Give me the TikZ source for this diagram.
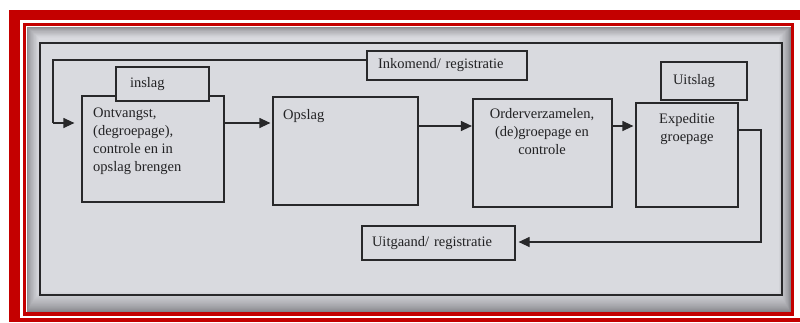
\documentclass[tikz,border=0pt]{standalone}
\usepackage{fontspec}
\setmainfont{Liberation Serif}
\usetikzlibrary{arrows.meta,calc}
\definecolor{framered}{RGB}{196,0,0}
\definecolor{paper}{RGB}{217,218,223}
\definecolor{paperdark}{RGB}{132,132,137}
\definecolor{ink}{RGB}{40,40,42}
\tikzset{
  box/.style={draw=ink, line width=1.2pt, fill=paper, inner sep=0pt},
  lbl/.style={font=\fontsize{14.5}{18}\selectfont, text=ink!85!black, inner sep=0pt},
  conn/.style={draw=ink, line width=1.2pt},
  arr/.style={conn, -{Triangle[length=11pt,width=10pt]}},
}
\begin{document}
\begin{tikzpicture}[x=1pt,y=-1pt]
\useasboundingbox (0,0) rectangle (800,322);
% frame
\fill[white] (0,0) rectangle (800,322);
\fill[framered] (9,10) rectangle (800,322);
\fill[white] (20,20) rectangle (800,318);
\draw[framered, line width=3.5pt] (24.5,24.5) rectangle (792.5,314);
% photo background with vignette
\fill[paperdark] (26.5,26.5) rectangle (790.5,312.2);
\foreach \i in {1,...,20} {
  \pgfmathtruncatemacro\p{100*(\i/20)^0.7}
  \fill[paper!\p!paperdark] (26.5+\i*0.6, 26.5+\i*0.55) rectangle (790.5-\i*0.6, 312.2-\i*1.0);
}
% outer diagram frame
\node[draw=ink, line width=1.1pt, minimum width=742pt, minimum height=252pt, inner sep=0pt] (outer) at (411,169) {};
% boxes
\node[box, minimum width=142pt, minimum height=106pt] (ont) at (153,149) {};
\node[box, minimum width=93pt, minimum height=34pt, text width=65pt, inner xsep=14pt, align=left, lbl] (insl) at (162.5,84) {inslag};
\node[box, minimum width=145pt, minimum height=108pt] (ops) at (345.5,151) {};
\node[box, minimum width=139pt, minimum height=108pt] (ord) at (542.5,153) {};
\node[box, minimum width=102pt, minimum height=104pt] (exp) at (687,155) {};
\node[box, minimum width=86pt, minimum height=38pt, text width=62pt, inner xsep=12pt, align=left, lbl] (uits) at (704,81) {Uitslag};
\node[box, minimum width=160pt, minimum height=29pt, text width=138pt, inner xsep=11pt, align=left, lbl] (inko) at (447,65.5) {Inkomend/ registratie};
\node[box, minimum width=153pt, minimum height=34pt, text width=133pt, inner xsep=10pt, align=left, lbl] (uitg) at (438.5,243) {Uitgaand/ registratie};
% box texts
\node[lbl, anchor=north west, align=left] (ontt) at (93,107.5) {Ontvangst,\\(degroepage),\\controle en in\\opslag brengen};
\node[lbl, anchor=north west, align=left] (opst) at (283,109) {Opslag};
\node[lbl, anchor=north, align=center] (ordt) at (542,108) {Orderverzamelen,\\(de)groepage en\\controle};
\node[lbl, anchor=north, align=center] (expt) at (687,113) {Expeditie\\groepage};
% connectors
\coordinate (fbtop) at (53,60);
\coordinate (fbbot) at (53,123);
\draw[conn] (inko.west |- fbtop) -- (fbtop) -- (fbbot);
\draw[arr, shorten >=7pt] (fbbot) -- (ont.west |- fbbot);
\draw[arr, shorten >=2pt] (ont.east |- fbbot) -- (ops.west |- fbbot);
\coordinate (row2) at (0,126);
\draw[arr, shorten >=0.5pt] (ops.east |- row2) -- (ord.west |- row2);
\draw[arr, shorten >=2pt] (ord.east |- row2) -- (exp.west |- row2);
\coordinate (rt1) at (761,130);
\coordinate (rt2) at (761,242);
\draw[arr, shorten >=3pt] (exp.east |- rt1) -- (rt1) -- (rt2) -- (uitg.east |- rt2);
\end{tikzpicture}
\end{document}
